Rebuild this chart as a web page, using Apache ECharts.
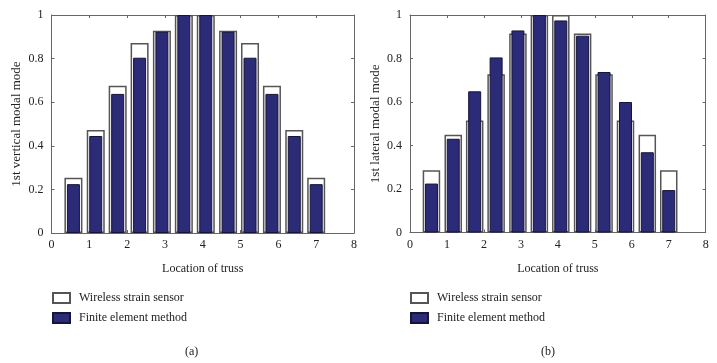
<!DOCTYPE html>
<html>
<head>
<meta charset="utf-8">
<script src="https://cdn.jsdelivr.net/npm/echarts@6/dist/echarts.min.js"></script>
<style>
html,body{margin:0;padding:0;background:#fff;}
#chart{width:717px;height:363px;}
</style>
</head>
<body>
<div id="chart"></div>
<script>
// Truss locations (x positions of bars)
var locations = [0.58, 1.17, 1.75, 2.33, 2.92, 3.5, 4.08, 4.67, 5.25, 5.83, 6.42, 7.0];
// (a) 1st vertical modal mode
var verticalWireless = [0.253, 0.472, 0.675, 0.871, 0.928, 1.0, 1.0, 0.928, 0.871, 0.675, 0.472, 0.253];
var verticalFEM      = [0.224, 0.445, 0.638, 0.804, 0.923, 1.0, 1.0, 0.923, 0.804, 0.638, 0.445, 0.224];
// (b) 1st lateral modal mode
var lateralWireless  = [0.286, 0.449, 0.515, 0.728, 0.915, 1.0, 1.0, 0.915, 0.728, 0.515, 0.449, 0.286];
var lateralFEM       = [0.225, 0.431, 0.649, 0.805, 0.929, 1.0, 0.975, 0.905, 0.738, 0.600, 0.369, 0.195];
// axis ticks
var xTicks = [0, 1, 2, 3, 4, 5, 6, 7, 8];
var yTicks = [0, 0.2, 0.4, 0.6, 0.8, 1];
var seriesNames = ['Wireless strain sensor', 'Finite element method'];

function pairs(xs, ys) { return xs.map(function (x, i) { return [x, ys[i]]; }); }

var FONT = '"Liberation Serif", "DejaVu Serif", serif';
var AXC = '#666';
var BLUE = '#2b2b78';
var XMIN = xTicks[0], XMAX = xTicks[xTicks.length - 1];
var YMIN = yTicks[0], YMAX = yTicks[yTicks.length - 1];

function mainX(grid) {
  return {
    type: 'value', gridIndex: grid, min: XMIN, max: XMAX, interval: 1,
    name: 'Location of truss', nameLocation: 'middle', nameGap: 30,
    nameTextStyle: { fontFamily: FONT, fontSize: 12, color: '#222' },
    axisLine: { show: true, onZero: false, lineStyle: { color: AXC, width: 1 } },
    axisTick: { show: true, inside: true, length: 3, lineStyle: { color: AXC } },
    axisLabel: { fontFamily: FONT, fontSize: 12, color: '#222', margin: 6 },
    splitLine: { show: false }
  };
}
function topX(grid) {
  return {
    type: 'value', gridIndex: grid, position: 'top', min: XMIN, max: XMAX, interval: 1,
    axisLine: { show: true, onZero: false, lineStyle: { color: AXC, width: 1 } },
    axisTick: { show: true, inside: true, length: 3, lineStyle: { color: AXC } },
    axisLabel: { show: false }, splitLine: { show: false }
  };
}
function hiddenX(grid) {
  return {
    type: 'value', gridIndex: grid, min: XMIN, max: XMAX, interval: 1, show: false,
    axisLine: { onZero: false }, splitLine: { show: false }
  };
}
function mainY(grid, name) {
  return {
    type: 'value', gridIndex: grid, min: YMIN, max: YMAX, interval: 0.2,
    name: name, nameLocation: 'middle', nameGap: 28,
    nameTextStyle: { fontFamily: FONT, fontSize: 13, color: '#222' },
    axisLine: { show: true, onZero: false, lineStyle: { color: AXC, width: 1 } },
    axisTick: { show: true, inside: true, length: 3, lineStyle: { color: AXC } },
    axisLabel: { fontFamily: FONT, fontSize: 12, color: '#222', margin: 8 },
    splitLine: { show: false }
  };
}
function rightY(grid) {
  return {
    type: 'value', gridIndex: grid, position: 'right', min: YMIN, max: YMAX, interval: 0.2,
    axisLine: { show: true, onZero: false, lineStyle: { color: AXC, width: 1 } },
    axisTick: { show: true, inside: true, length: 3, lineStyle: { color: AXC } },
    axisLabel: { show: false }, splitLine: { show: false }
  };
}
function whiteSeries(xi, yi, data, w) {
  return {
    name: seriesNames[0], type: 'bar', xAxisIndex: xi, yAxisIndex: yi, data: data, barWidth: w,
    itemStyle: { color: '#ffffff', borderColor: '#555', borderWidth: 1.5 },
    emphasis: { disabled: true }, z: 2, silent: true
  };
}
function blueSeries(xi, yi, data, w) {
  return {
    name: seriesNames[1], type: 'bar', xAxisIndex: xi, yAxisIndex: yi, data: data, barWidth: w,
    itemStyle: { color: BLUE, borderColor: '#15153a', borderWidth: 1 },
    emphasis: { disabled: true }, z: 3, silent: true
  };
}
function legendAt(left) {
  return {
    left: left, top: 292, padding: 0, orient: 'vertical', itemWidth: 17, itemHeight: 10, itemGap: 8, icon: 'rect',
    data: seriesNames, selectedMode: false,
    textStyle: { fontFamily: FONT, fontSize: 12, color: '#222', padding: [0, 0, 0, 4] }
  };
}

var chart = echarts.init(document.getElementById('chart'), null, { renderer: 'canvas' });
chart.setOption({
  animation: false,
  backgroundColor: '#fff',
  grid: [
    { left: 51.5, top: 15, width: 302.5, height: 218 },
    { left: 410, top: 15, width: 295.7, height: 217.5 }
  ],
  // 0,1: bottom axes; 2,3: top box axes; 4,5: hidden axes for the FEM bars (so they centre independently)
  xAxis: [mainX(0), mainX(1), topX(0), topX(1), hiddenX(0), hiddenX(1)],
  yAxis: [mainY(0, '1st vertical modal mode'), mainY(1, '1st lateral modal mode'), rightY(0), rightY(1)],
  legend: [legendAt(52), legendAt(410)],
  graphic: [
    { type: 'text', left: 185, top: 346, style: { text: '(a)', font: '12px ' + FONT, fill: '#222' } },
    { type: 'text', left: 541, top: 346, style: { text: '(b)', font: '12px ' + FONT, fill: '#222' } }
  ],
  series: [
    whiteSeries(0, 0, pairs(locations, verticalWireless), 18),
    blueSeries(4, 0, pairs(locations, verticalFEM), 13),
    whiteSeries(1, 1, pairs(locations, lateralWireless), 17.5),
    blueSeries(5, 1, pairs(locations, lateralFEM), 13)
  ]
});
</script>
</body>
</html>
